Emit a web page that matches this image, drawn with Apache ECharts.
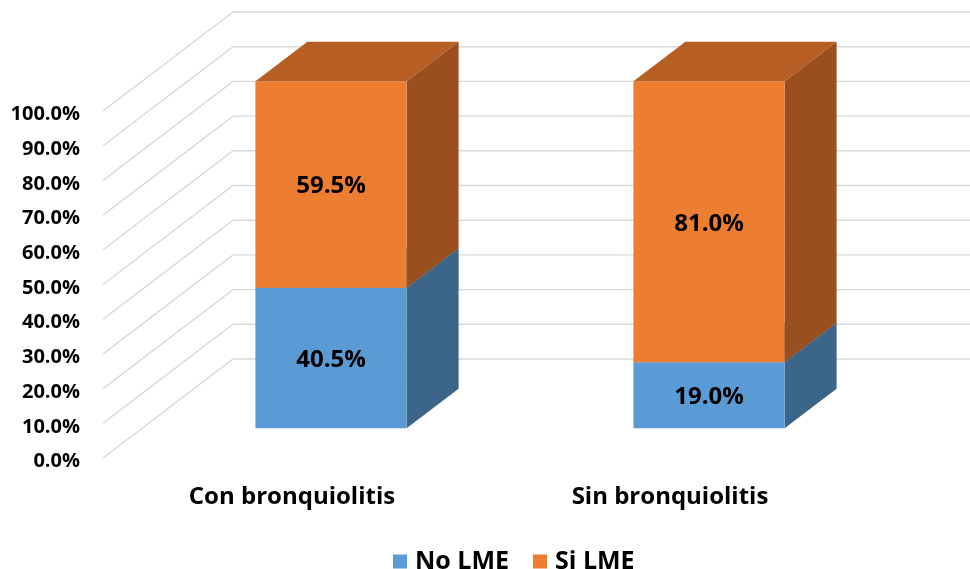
<!DOCTYPE html>
<html>
<head>
<meta charset="utf-8">
<script src="https://cdn.jsdelivr.net/npm/echarts@6/dist/echarts.min.js"></script>
<style>
  html, body { margin: 0; padding: 0; background: #fff; }
  #chart { width: 970px; height: 569px; }
</style>
</head>
<body>
<div id="chart"></div>
<script>
// Chart data
const categories = ['Con bronquiolitis', 'Sin bronquiolitis'];
const noLME = [40.5, 19.0];
const siLME = [59.5, 81.0];
const yTicks = [0, 10, 20, 30, 40, 50, 60, 70, 80, 90, 100];

// Oblique 3D projection: the back wall sits WALL_DX / WALL_DY px from the front plane
const WALL_DX = 130, WALL_DY = -99;
const BAR_FRONT = 0.30, BAR_BACK = 0.70;   // depth fractions of the bar faces
const FONT = '"Open Sans", Lato, sans-serif';

const chart = echarts.init(document.getElementById('chart'));

function barRenderer(colors) {
  return function (params, api) {
    const cat = api.value(0), val = api.value(1), base = api.value(2);
    const p0 = api.coord([cat, base]);
    const p1 = api.coord([cat, base + val]);
    const bw = api.size([1, 0])[0] * 0.4;
    const fdx = WALL_DX * BAR_FRONT, fdy = WALL_DY * BAR_FRONT;
    const ddx = WALL_DX * (BAR_BACK - BAR_FRONT), ddy = WALL_DY * (BAR_BACK - BAR_FRONT);
    const xl = p0[0] - bw / 2 + fdx, xr = p0[0] + bw / 2 + fdx;
    const yb = p0[1] + fdy, yt = p1[1] + fdy;
    return {
      type: 'group',
      children: [
        { type: 'polygon', shape: { points: [[xl, yt], [xr, yt], [xr + ddx, yt + ddy], [xl + ddx, yt + ddy]] },
          style: { fill: colors.top } },
        { type: 'polygon', shape: { points: [[xr, yb], [xr, yt], [xr + ddx, yt + ddy], [xr + ddx, yb + ddy]] },
          style: { fill: colors.side } },
        { type: 'rect', shape: { x: xl, y: yt, width: xr - xl, height: yb - yt },
          style: { fill: colors.front } },
        { type: 'text', style: { text: val.toFixed(1) + '%', x: (xl + xr) / 2, y: (yt + yb) / 2 + 2,
            align: 'center', verticalAlign: 'middle', fill: '#000',
            font: 'bold 24px ' + FONT } }
      ]
    };
  };
}

const noData = categories.map((c, i) => [i, noLME[i], 0]);
const siData = categories.map((c, i) => [i, siLME[i], noLME[i]]);

chart.setOption({
  animation: false,
  grid: { left: 103, right: 111, top: 111, bottom: 111 },
  legend: {
    data: ['No LME', 'Si LME'],
    top: 544, left: 388,
    icon: 'rect', itemWidth: 14, itemHeight: 14, itemGap: 24,
    textStyle: { fontFamily: FONT, fontWeight: 'bold', fontSize: 25, color: '#000', padding: [0, 0, 0, 3] }
  },
  xAxis: {
    type: 'category', data: categories,
    axisLine: { show: false }, axisTick: { show: false }, splitLine: { show: false },
    axisLabel: { margin: 27, fontFamily: FONT, fontWeight: 'bold', fontSize: 24, color: '#000' }
  },
  yAxis: {
    type: 'value', min: 0, max: 100, interval: 10,
    axisLine: { show: false }, axisTick: { show: false }, splitLine: { show: false },
    axisLabel: { margin: 23, formatter: v => v.toFixed(1) + '%',
      verticalAlign: 'top', lineHeight: 7,
      fontFamily: FONT, fontWeight: 'bold', fontSize: 20, color: '#000' }
  },
  series: [
    {
      type: 'custom', name: 'walls', silent: true, z: 1,
      data: yTicks.map(v => [0, v]),
      encode: { x: 0, y: 1 },
      renderItem: function (params, api) {
        const cs = params.coordSys;
        const y = api.coord([0, api.value(1)])[1];
        const x0 = cs.x;
        return {
          type: 'polyline',
          shape: { points: [[x0, y], [x0 + WALL_DX, y + WALL_DY], [cs.x + cs.width + WALL_DX, y + WALL_DY]] },
          style: { stroke: '#d9d9d9', lineWidth: 1.4, fill: null }
        };
      }
    },
    {
      type: 'custom', name: 'No LME', z: 2,
      itemStyle: { color: '#5b9bd5' },
      data: noData, encode: { x: 0, y: 1 },
      renderItem: barRenderer({ front: '#5b9bd5', side: '#3b6689', top: '#4a80b3' })
    },
    {
      type: 'custom', name: 'Si LME', z: 3,
      itemStyle: { color: '#ed7d31' },
      data: siData, encode: { x: 0, y: 1 },
      renderItem: barRenderer({ front: '#ed7d31', side: '#9a4f1e', top: '#b65e23' })
    }
  ]
});
</script>
</body>
</html>
